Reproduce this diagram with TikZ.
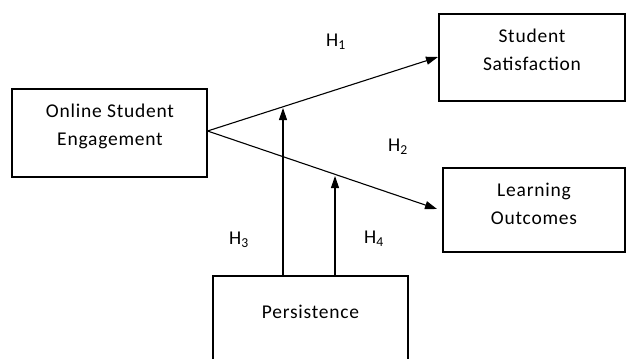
\documentclass[tikz,border=0pt]{standalone}
\usepackage{fontspec}
\setmainfont{Carlito}[LetterSpace=4]
\usetikzlibrary{arrows.meta}
\begin{document}
\begin{tikzpicture}[x=1pt,y=-1pt,
  box/.style={draw, line width=1.1pt, rectangle, inner sep=0pt},
  txt/.style={align=center, font=\fontsize{19.5}{28}\selectfont, inner sep=0pt},
  hyp/.style={font=\fontsize{19.5}{24}\selectfont, inner sep=0pt},
  arr/.style={line width=1.1pt, -{Triangle[length=12pt,width=8pt]}}]
\useasboundingbox (0,0) rectangle (627,359);
\clip (0,0) rectangle (627,359);
% boxes
\node[box, minimum width=195pt, minimum height=88pt] (eng) at (109.5,133) {};
\node[box, minimum width=186pt, minimum height=87pt] (sat) at (532,57.5) {};
\node[box, minimum width=182pt, minimum height=84pt] (lo) at (534,210) {};
\node[box, minimum width=195pt, minimum height=110pt] (per) at (310.5,331) {};
% texts
\node[txt] (engt) at (110,126) {Online Student\\Engagement};
\node[txt] (satt) at (532,50) {Student\\Satisfaction};
\node[txt] (lot) at (534,204) {Learning\\Outcomes};
\node[txt] (pert) at (310.5,312) {Persistence};
% coordinates
\coordinate (o) at (eng.east |- 0,131);
\coordinate (t1) at (438,57);
\coordinate (t2) at (437,209);
\coordinate (b3) at (283,276);
\coordinate (e3) at (283,108);
\coordinate (b4) at (335,276);
\coordinate (e4) at (335,176);
% arrows
\draw[arr] (o) -- (t1);
\draw[arr] (o) -- (t2);
\draw[arr] (b3 |- per.north) -- (e3);
\draw[arr] (b4 |- per.north) -- (e4);
% labels
\node[hyp] (h1) at (336,42) {H\textsubscript{1}};
\node[hyp] (h2) at (398,147) {H\textsubscript{2}};
\node[hyp] (h3) at (239,240) {H\textsubscript{3}};
\node[hyp] (h4) at (374,239) {H\textsubscript{4}};
\end{tikzpicture}
\end{document}
